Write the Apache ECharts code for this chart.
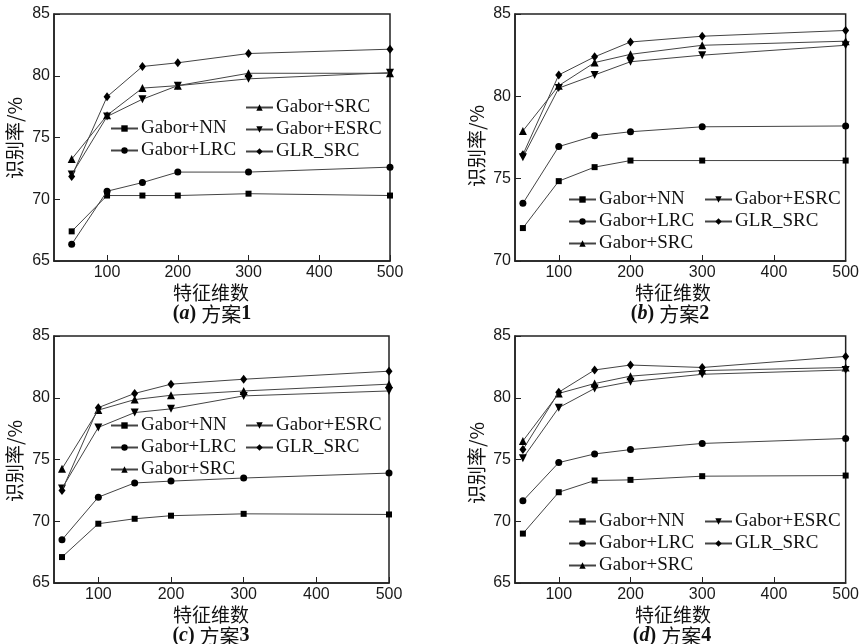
<!DOCTYPE html>
<html><head><meta charset="utf-8">
<script src="https://cdn.jsdelivr.net/npm/echarts@6/dist/echarts.min.js"></script>
<style>html,body{margin:0;padding:0;background:#fff}#c{width:862px;height:644px}</style>
</head><body><div id="c"></div>
<script>
// ---- data ----
const dims = [50, 100, 150, 200, 300, 500];
const xTickValues = [100, 200, 300, 400, 500];
const seriesNames = ['Gabor+NN', 'Gabor+LRC', 'Gabor+SRC', 'Gabor+ESRC', 'GLR_SRC'];
const panelCaptions = ['a', 'b', 'c', 'd'];
const panelSchemes = ['方案1', '方案2', '方案3', '方案4'];
const yMins = [65, 70, 65, 65];
const yMaxs = [85, 85, 85, 85];
const xMins = [25, 39, 39, 39];

// (a) 方案1
const nnA   = [67.4, 70.3, 70.3, 70.3, 70.45, 70.3];
const lrcA  = [66.35, 70.65, 71.35, 72.2, 72.2, 72.6];
const srcA  = [73.25, 76.8, 79.0, 79.2, 80.2, 80.2];
const esrcA = [72.0, 76.7, 78.1, 79.2, 79.75, 80.25];
const glrA  = [71.85, 78.3, 80.75, 81.05, 81.8, 82.15];
// (b) 方案2
const nnB   = [72.0, 74.85, 75.7, 76.1, 76.1, 76.1];
const lrcB  = [73.5, 76.95, 77.6, 77.85, 78.15, 78.2];
const srcB  = [77.9, 80.65, 82.05, 82.55, 83.1, 83.35];
const esrcB = [76.3, 80.5, 81.3, 82.1, 82.5, 83.1];
const glrB  = [76.45, 81.3, 82.4, 83.3, 83.65, 84.0];
// (c) 方案3
const nnC   = [67.1, 69.8, 70.2, 70.45, 70.6, 70.55];
const lrcC  = [68.5, 71.95, 73.1, 73.25, 73.5, 73.9];
const srcC  = [74.25, 79.0, 79.85, 80.2, 80.55, 81.1];
const esrcC = [72.65, 77.6, 78.8, 79.1, 80.15, 80.55];
const glrC  = [72.5, 79.2, 80.35, 81.1, 81.5, 82.15];
// (d) 方案4
const nnD   = [69.0, 72.35, 73.3, 73.35, 73.65, 73.7];
const lrcD  = [71.65, 74.75, 75.45, 75.8, 76.3, 76.7];
const srcD  = [76.5, 80.35, 81.15, 81.75, 82.2, 82.45];
const esrcD = [75.1, 79.2, 80.75, 81.3, 81.9, 82.25];
const glrD  = [75.8, 80.45, 82.25, 82.65, 82.45, 83.35];

const panelData = [
  [nnA, lrcA, srcA, esrcA, glrA],
  [nnB, lrcB, srcB, esrcB, glrB],
  [nnC, lrcC, srcC, esrcC, glrC],
  [nnD, lrcD, srcD, esrcD, glrD]
];

// ---- styling / layout ----
const grids = [
  {left: 54, top: 14, width: 336, height: 247},
  {left: 515, top: 14, width: 334, height: 247},
  {left: 54, top: 336, width: 335, height: 247},
  {left: 515, top: 336, width: 334, height: 247}
];
const symbols = ['rect', 'circle', 'triangle', 'path://M0,0L10,0L5,9Z', 'diamond'];
const symbolSizes = [6, 7, 8, 8, [7, 9]];
const tickFont = {fontFamily: 'Liberation Sans, Arial, sans-serif', fontSize: 16, color: '#1a1a1a'};
const serifFont = 'Liberation Serif, Times New Roman, serif';
const cjkFont = 'Noto Sans CJK SC, sans-serif';

const option = {
  backgroundColor: '#fff',
  animation: false,
  grid: grids.map(g => Object.assign({show: true, borderColor: '#222', borderWidth: 1.5, backgroundColor: 'transparent'}, g)),
  xAxis: grids.map((g, i) => ({
    type: 'value', gridIndex: i, min: xMins[i], max: 500,
    axisLine: {show: true, onZero: false, lineStyle: {color: '#222', width: 1.5}},
    axisTick: {show: true, inside: true, length: 6, customValues: xTickValues, lineStyle: {color: '#222', width: 1}},
    axisLabel: Object.assign({margin: 4, customValues: xTickValues}, tickFont),
    splitLine: {show: false}
  })),
  yAxis: grids.map((g, i) => ({
    type: 'value', gridIndex: i, min: yMins[i], max: yMaxs[i], interval: 5,
    axisLine: {show: true, onZero: false, lineStyle: {color: '#222', width: 1.5}},
    axisTick: {show: true, inside: true, length: 6, lineStyle: {color: '#222', width: 1}},
    axisLabel: Object.assign({margin: 4}, tickFont),
    splitLine: {show: false}
  })),
  series: [],
  legend: [],
  graphic: []
};

panelData.forEach((arr, p) => {
  arr.forEach((vals, s) => {
    option.series.push({
      type: 'line', name: seriesNames[s], xAxisIndex: p, yAxisIndex: p,
      data: dims.map((d, k) => [d, vals[k]]),
      symbol: symbols[s], symbolSize: symbolSizes[s],
      itemStyle: {color: '#000'},
      lineStyle: {color: '#444', width: 1},
      z: 3 + s
    });
  });
});

// legends: [left, topOfFirstRow, names]
const legendDefs = [
  [110, 119, ['Gabor+NN', 'Gabor+LRC']],
  [245, 98, ['Gabor+SRC', 'Gabor+ESRC', 'GLR_SRC']],
  [568, 190, ['Gabor+NN', 'Gabor+LRC', 'Gabor+SRC']],
  [704, 190, ['Gabor+ESRC', 'GLR_SRC']],
  [110, 416, ['Gabor+NN', 'Gabor+LRC', 'Gabor+SRC']],
  [245, 416, ['Gabor+ESRC', 'GLR_SRC']],
  [568, 512, ['Gabor+NN', 'Gabor+LRC', 'Gabor+SRC']],
  [704, 512, ['Gabor+ESRC', 'GLR_SRC']]
];
legendDefs.forEach(d => {
  option.legend.push({
    orient: 'vertical', left: d[0], top: d[1], padding: 0,
    itemWidth: 27, itemHeight: 8, itemGap: 3,
    selectedMode: false, data: d[2],
    textStyle: {fontFamily: serifFont, fontSize: 19, color: '#111', padding: [0, 0, 0, -2]}
  });
});

// axis names and captions
const yNamePos = [[15, 138], [477, 146], [15, 461], [477, 463]];
const xNamePos = [[211, 293], [673, 293], [211, 615], [673, 615]];
const capPos = [[212, 314], [670, 314], [211, 636], [672, 636]];
for (let p = 0; p < 4; p++) {
  option.graphic.push({
    type: 'text', x: yNamePos[p][0], y: yNamePos[p][1], rotation: Math.PI / 2,
    style: {text: '识别率/%', font: '19px ' + cjkFont, fill: '#111', align: 'center', verticalAlign: 'middle'}
  });
  option.graphic.push({
    type: 'text', x: xNamePos[p][0], y: xNamePos[p][1],
    style: {text: '特征维数', font: '19px ' + cjkFont, fill: '#111', align: 'center', verticalAlign: 'middle'}
  });
  option.graphic.push({
    type: 'text', x: capPos[p][0], y: capPos[p][1],
    style: {
      text: '{b|(}{i|' + panelCaptions[p] + '}{b|) }{c|' + panelSchemes[p].slice(0, 2) + '}{b|' + panelSchemes[p].slice(2) + '}',
      align: 'center', verticalAlign: 'middle', fill: '#111',
      rich: {
        b: {fontFamily: serifFont, fontWeight: 'bold', fontSize: 20, fill: '#111'},
        i: {fontFamily: serifFont, fontWeight: 'bold', fontStyle: 'italic', fontSize: 20, fill: '#111'},
        c: {fontFamily: cjkFont, fontSize: 20, fill: '#111'}
      }
    }
  });
}

const chart = echarts.init(document.getElementById('c'), null, {renderer: 'canvas'});
chart.setOption(option);
</script>
</body></html>
